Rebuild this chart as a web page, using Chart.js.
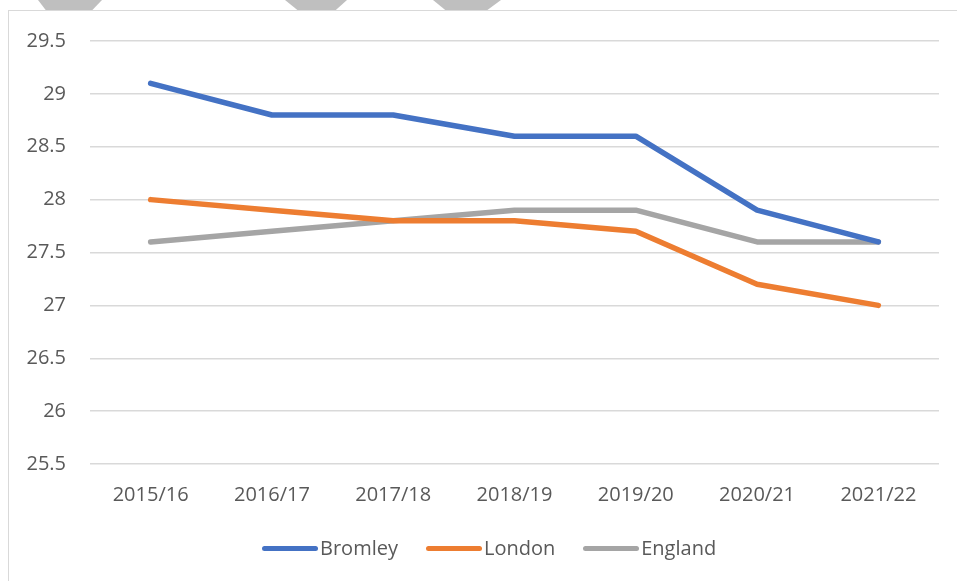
<!DOCTYPE html>
<html>
<head>
<meta charset="utf-8">
<script src="https://cdn.jsdelivr.net/npm/chart.js@4/dist/chart.umd.min.js"></script>
<style>
  html, body { margin: 0; padding: 0; background: #fff; }
  #wrap { position: relative; width: 957px; height: 581px; overflow: hidden; }
  #frame { position: absolute; left: 8px; top: 10px; right: -2px; bottom: -2px;
           border-left: 1px solid #d9d9d9; border-top: 1px solid #d9d9d9; }
  .stripe { position: absolute; top: 0; height: 10px; background: #bfbfbf; }
  #chart { position: absolute; left: 0; top: 0; }
  #legend { position: absolute; left: 262px; top: 534px; height: 28px;
            font-family: 'Open Sans', 'Liberation Sans', sans-serif; font-size: 20px;
            color: #595959; white-space: nowrap; line-height: 28px; }
  #legend .item { display: inline-block; margin-right: 28px; }
  #legend .swatch { display: inline-block; width: 56px; height: 5.5px; border-radius: 3px;
                    vertical-align: middle; margin-right: 2px; position: relative; top: -1px; }
</style>
</head>
<body>
<div id="wrap">
  <div class="stripe" style="left:38px;width:64px;clip-path:polygon(0 0,100% 0,85% 100%,12% 100%)"></div>
  <div class="stripe" style="left:285px;width:62px;clip-path:polygon(0 0,100% 0,82% 100%,20% 100%)"></div>
  <div class="stripe" style="left:433px;width:68px;clip-path:polygon(0 0,100% 0,80% 100%,18% 100%)"></div>
  <div id="frame"></div>
  <canvas id="chart" width="957" height="581"></canvas>
  <div id="legend"></div>
</div>
<script>
//
// data
//
var years = ['2015/16', '2016/17', '2017/18', '2018/19', '2019/20', '2020/21', '2021/22'];
var bromley = [29.1, 28.8, 28.8, 28.6, 28.6, 27.9, 27.6];
var london  = [28.0, 27.9, 27.8, 27.8, 27.7, 27.2, 27.0];
var england = [27.6, 27.7, 27.8, 27.9, 27.9, 27.6, 27.6];

var font_family = "'Open Sans', 'Liberation Sans', sans-serif";
var text_color = '#595959';

function makeLine(label, data, color) {
  return {
    label : label,
    data : data,
    borderColor : color,
    backgroundColor : color,
    borderWidth : 5.5,
    borderCapStyle : 'round',
    borderJoinStyle : 'round',
    pointRadius : 0,
    pointHoverRadius : 0,
    tension : 0,
    fill : false
  };
}

var chart_config = {
  type : 'line',
  data : {
    labels : years,
    datasets : [
      makeLine('Bromley', bromley, '#4472C4'),
      makeLine('London', london, '#ED7D31'),
      makeLine('England', england, '#A5A5A5')
    ]
  },
  options : {
    responsive : false,
    animation : false,
    layout : {padding : {top : 41, right : 18, bottom : 55, left : 0}},
    plugins : {
      legend : {display : false},
      tooltip : {enabled : false}
    },
    scales : {
      x : {
        offset : true,
        grid : {display : false, drawTicks : false},
        border : {display : false},
        ticks : {color : text_color, padding : 19, font : {family : font_family, size : 20}}
      },
      y : {
        min : 25.5,
        max : 29.5,
        afterFit : function(scale) { scale.width = 90; },
        grid : {color : '#d9d9d9', lineWidth : 1.5, drawTicks : false},
        border : {display : false},
        ticks : {
          stepSize : 0.5,
          padding : 24,
          color : text_color,
          font : {family : font_family, size : 20},
          callback : function(v) { return String(Math.round(v * 10) / 10); }
        }
      }
    }
  }
};

var ctx = document.getElementById('chart').getContext('2d');
var chart = new Chart(ctx, chart_config);

// legend as html, built from the datasets
var legend = document.getElementById('legend');
chart.data.datasets.forEach(function(ds) {
  var item = document.createElement('span');
  item.className = 'item';
  var sw = document.createElement('span');
  sw.className = 'swatch';
  sw.style.background = ds.borderColor;
  item.appendChild(sw);
  item.appendChild(document.createTextNode(ds.label));
  legend.appendChild(item);
});
</script>
</body>
</html>
